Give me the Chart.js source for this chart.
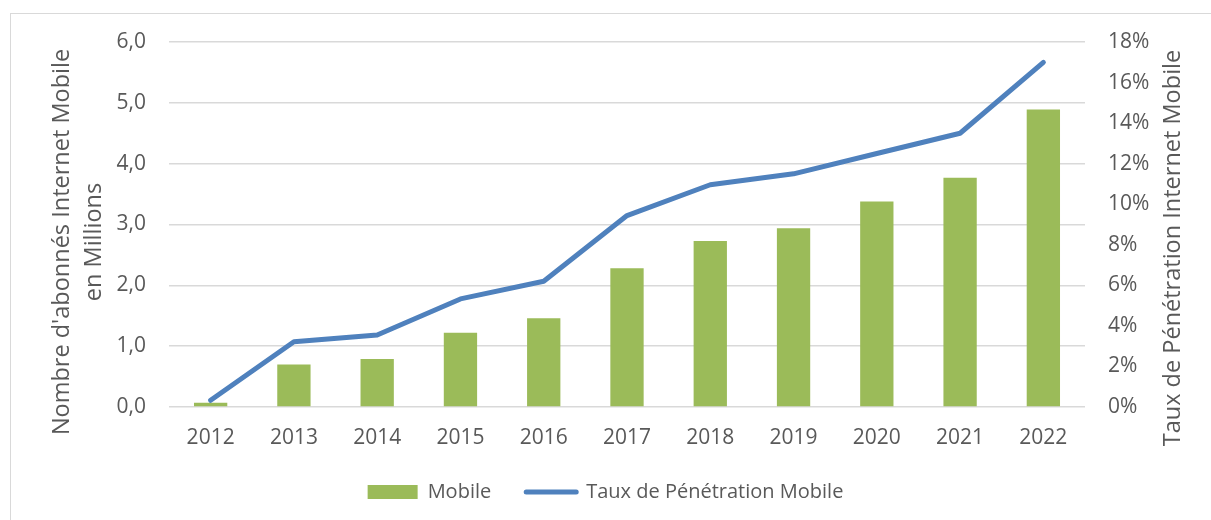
<!DOCTYPE html>
<html>
<head>
<meta charset="utf-8">
<script src="https://cdn.jsdelivr.net/npm/chart.js@4.4.0/dist/chart.umd.min.js"></script>
<style>
  html, body { margin: 0; padding: 0; background: #fff; overflow: hidden; }
  #frame { position: absolute; left: 10px; top: 13px; width: 1400px; height: 700px; border: 1px solid #d9d9d9; }
  #wrap { position: absolute; left: 0; top: 0; width: 1211px; height: 520px; }
</style>
</head>
<body>
<div id="frame"></div>
<div id="wrap"><canvas id="myChart"></canvas></div>
<script>
// data
const years = ['2012', '2013', '2014', '2015', '2016', '2017', '2018', '2019', '2020', '2021', '2022'];
const abonnes = [0.07, 0.70, 0.79, 1.22, 1.46, 2.28, 2.73, 2.94, 3.38, 3.77, 4.89]; // millions
const penetration = [0.33, 3.22, 3.55, 5.33, 6.2, 9.44, 10.96, 11.5, 12.5, 13.5, 17.0]; // %

const leftTitle = ["Nombre d'abonnés Internet Mobile", 'en Millions'];
const rightTitle = 'Taux de Pénétration Internet Mobile';
const barLabel = 'Mobile';
const lineLabel = 'Taux de Pénétration Mobile';

const green = '#9bbb59';
const blue = '#4f81bd';
const textColor = '#595959';
const font = '"Open Sans", "Noto Sans", sans-serif';

// axis titles drawn by hand (right one reads bottom to top)
const axisTitles = {
    id: 'axisTitles',
    afterDraw(chart) {
        const ctx = chart.ctx;
        const area = chart.chartArea;
        ctx.save();
        ctx.fillStyle = textColor;
        ctx.font = '23.5px ' + font;
        ctx.textAlign = 'center';
        ctx.textBaseline = 'middle';

        ctx.save();
        ctx.translate(area.left - 91, 242);
        ctx.rotate(-Math.PI / 2);
        ctx.fillText(leftTitle[0], 0, -16);
        ctx.fillText(leftTitle[1], 0, 16);
        ctx.restore();

        ctx.translate(area.right + 88, 248);
        ctx.rotate(-Math.PI / 2);
        ctx.fillText(rightTitle, 0, 0);
        ctx.restore();
    }
};

Chart.defaults.font.family = font;
Chart.defaults.color = textColor;

const ctx = document.getElementById('myChart').getContext('2d');

const myChart = new Chart(ctx, {
    type: 'bar',
    data: {
        labels: years,
        datasets: [{
            type: 'line',
            label: lineLabel,
            data: penetration,
            yAxisID: 'y1',
            borderColor: blue,
            backgroundColor: blue,
            borderWidth: 5,
            borderCapStyle: 'round',
            borderJoinStyle: 'round',
            pointRadius: 0,
            tension: 0
        }, {
            label: barLabel,
            data: abonnes,
            yAxisID: 'y',
            backgroundColor: green,
            categoryPercentage: 1,
            barPercentage: 0.4
        }]
    },
    options: {
        responsive: true,
        maintainAspectRatio: false,
        animation: false,
        layout: {
            padding: { top: 42, left: 0, right: 0, bottom: 8 }
        },
        scales: {
            x: {
                grid: { display: false, drawTicks: false },
                border: { display: false },
                ticks: { font: { size: 21 }, padding: 18, color: textColor },
                afterFit: (scale) => { scale.height = 40; }
            },
            y: {
                position: 'left',
                min: 0,
                max: 6,
                grid: { color: '#d9d9d9', lineWidth: 1.5, drawTicks: false },
                border: { display: false },
                ticks: {
                    stepSize: 1,
                    padding: 23,
                    font: { size: 21 },
                    color: textColor,
                    callback: (v) => v.toFixed(1).replace('.', ',')
                },
                afterFit: (scale) => { scale.width = 169; }
            },
            y1: {
                position: 'right',
                min: 0,
                max: 18,
                grid: { display: false, drawTicks: false },
                border: { display: false },
                ticks: {
                    stepSize: 2,
                    padding: 23,
                    font: { size: 21 },
                    color: textColor,
                    callback: (v) => v + '%'
                },
                afterFit: (scale) => { scale.width = 126; }
            }
        },
        plugins: {
            tooltip: { enabled: false },
            legend: {
                position: 'bottom',
                labels: {
                    usePointStyle: true,
                    pointStyleWidth: 50,
                    boxHeight: 14,
                    padding: 35,
                    color: textColor,
                    font: { size: 20 },
                    generateLabels: () => [{
                        text: barLabel,
                        fillStyle: green,
                        strokeStyle: green,
                        lineWidth: 0,
                        pointStyle: 'rect',
                        fontColor: textColor,
                        datasetIndex: 1
                    }, {
                        text: lineLabel,
                        fillStyle: blue,
                        strokeStyle: blue,
                        lineWidth: 5,
                        lineCap: 'round',
                        pointStyle: 'line',
                        fontColor: textColor,
                        datasetIndex: 0
                    }]
                }
            }
        }
    },
    plugins: [axisTitles]
});
</script>
</body>
</html>
